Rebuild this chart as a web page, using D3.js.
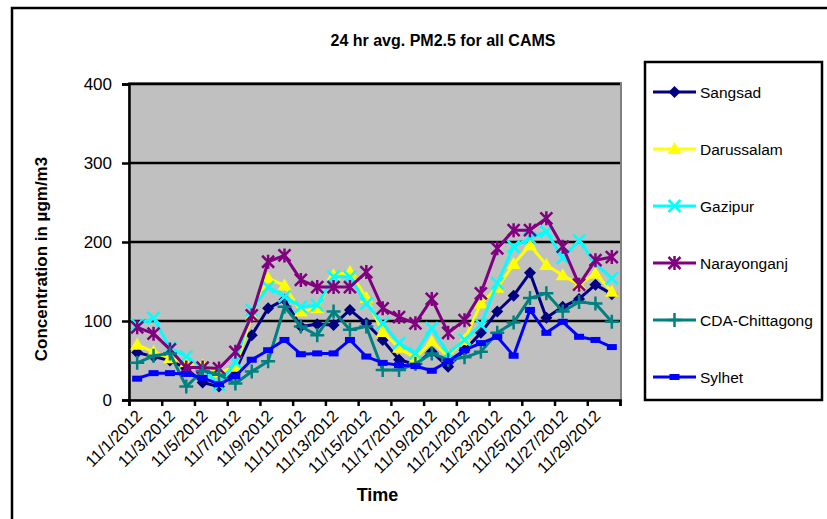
<!DOCTYPE html>
<html>
<head>
<meta charset="utf-8">
<script src="https://cdn.jsdelivr.net/npm/d3@7"></script>
<style>
  body { margin: 0; background: #fff; }
  text { font-family: "Liberation Sans", Arial, sans-serif; }
</style>
</head>
<body>
<div id="chart"></div>
<script>
// categories
var dates = ["11/1/2012","11/2/2012","11/3/2012","11/4/2012","11/5/2012","11/6/2012","11/7/2012","11/8/2012","11/9/2012","11/10/2012",
  "11/11/2012","11/12/2012","11/13/2012","11/14/2012","11/15/2012","11/16/2012","11/17/2012","11/18/2012","11/19/2012","11/20/2012",
  "11/21/2012","11/22/2012","11/23/2012","11/24/2012","11/25/2012","11/26/2012","11/27/2012","11/28/2012","11/29/2012","11/30/2012"]

var sangsad     = [60, 55, 50, 40, 22, 17, 37, 82, 116, 127, 93, 96, 95, 114, 97, 76, 51, 45, 61, 42, 63, 85, 112, 132, 161, 104, 118, 128, 146, 134]
var darussalam  = [70, 61, 53, 48, 44, 35, 42, 107, 154, 145, 112, 116, 158, 162, 129, 86, 66, 53, 74, 55, 76, 122, 142, 172, 196, 171, 158, 146, 160, 137]
var gazipur     = [95, 104, 66, 55, 40, 19, 48, 114, 143, 131, 118, 120, 156, 156, 122, 97, 72, 59, 91, 59, 76, 95, 148, 194, 205, 213, 180, 202, 173, 154]
var narayonganj = [92, 84, 64, 41, 41, 40, 61, 107, 175, 183, 152, 143, 143, 143, 162, 116, 105, 97, 128, 85, 101, 135, 192, 215, 215, 230, 194, 146, 177, 181]
var chittagong  = [47, 56, 59, 17, 37, 32, 21, 36, 49, 118, 93, 82, 112, 89, 93, 38, 38, 46, 59, 51, 54, 61, 85, 98, 129, 135, 112, 124, 122, 99]
var sylhet      = [27, 34, 34, 33, 28, 20, 30, 51, 63, 76, 58, 59, 59, 76, 55, 47, 44, 43, 37, 49, 63, 72, 80, 56, 114, 85, 99, 80, 76, 67]

var seriesNames = ["Sangsad", "Darussalam", "Gazipur", "Narayonganj", "CDA-Chittagong", "Sylhet"]
var seriesData = [sangsad, darussalam, gazipur, narayonganj, chittagong, sylhet]
var colors = ["#000080", "#ffff00", "#00ffff", "#800080", "#008080", "#0000ff"]
var markers = ["diamond", "triangle", "cross", "star", "plus", "dash"]
var yTicks = [0, 100, 200, 300, 400]

var W = 827, H = 519
var plot = {left: 129, right: 620, top: 84, bottom: 400}

var svg = d3.select("#chart").append("svg")
  .attr("width", W).attr("height", H)

// chart area border
svg.append("rect")
  .attr("x", 12).attr("y", 8).attr("width", 830).attr("height", 530)
  .attr("fill", "#fff").attr("stroke", "#000").attr("stroke-width", 2.5)

var x = d3.scaleBand().domain(dates).range([plot.left, plot.right])
var xi = d3.scaleLinear().domain([0, dates.length]).range([plot.left, plot.right])
var y = d3.scaleLinear().domain([0, 400]).range([plot.bottom, plot.top])
var cx = function(i) { return x(dates[i]) + x.bandwidth() / 2 }

// plot area
svg.append("rect")
  .attr("x", plot.left).attr("y", plot.top - 1)
  .attr("width", plot.right - plot.left + 1).attr("height", plot.bottom - plot.top + 1)
  .attr("fill", "#c0c0c0").attr("stroke", "#808080").attr("stroke-width", 2)

// gridlines
svg.append("g").selectAll("line")
  .data(yTicks.filter(d => d > 0))
  .join("line")
  .attr("x1", plot.left).attr("x2", plot.right)
  .attr("y1", d => y(d)).attr("y2", d => y(d))
  .attr("stroke", "#000").attr("stroke-width", 2.5)

// y axis
var yAxis = svg.append("g")
  .attr("transform", "translate(" + plot.left + ",0)")
  .call(d3.axisLeft(y).tickValues(yTicks).tickSize(7).tickPadding(10))
yAxis.select(".domain").attr("stroke", "#000").attr("stroke-width", 2.5)
yAxis.selectAll(".tick line").attr("stroke", "#000").attr("stroke-width", 2.5)
yAxis.selectAll("text").style("font-size", "17px").attr("fill", "#000")
  .style("font-family", "Liberation Sans, Arial, sans-serif")

// x axis (ticks every 2 categories)
var xAxis = svg.append("g")
  .attr("transform", "translate(0," + plot.bottom + ")")
  .call(d3.axisBottom(xi).tickValues(d3.range(0, dates.length + 1, 2)).tickSize(6).tickFormat(""))
xAxis.select(".domain").attr("stroke", "#000").attr("stroke-width", 2.5)
xAxis.selectAll(".tick line").attr("stroke", "#000").attr("stroke-width", 2.5)

// x labels rotated
svg.append("g").selectAll("text")
  .data(dates.filter((d, i) => i % 2 == 0))
  .join("text")
  .attr("transform", d => "translate(" + (x(d) + x.bandwidth() / 2 + 6) + "," + (plot.bottom + 17) + ") rotate(-45)")
  .attr("text-anchor", "end")
  .style("font-size", "16.5px")
  .text(d => d)

// lines
var line = d3.line()
  .x((d, i) => cx(i))
  .y(d => y(d))

function drawMarker(g, type, color) {
  if (type == "diamond") {
    g.append("path").attr("d", "M0,-6L6,0L0,6L-6,0Z").attr("fill", color)
  } else if (type == "triangle") {
    g.append("path").attr("d", "M0,-7L7,5L-7,5Z").attr("fill", color)
  } else if (type == "cross") {
    g.append("path").attr("d", "M-6,-6L6,6M-6,6L6,-6").attr("stroke", color).attr("stroke-width", 2.5)
  } else if (type == "star") {
    g.append("path").attr("d", "M-6,-6L6,6M-6,6L6,-6M0,-7L0,7").attr("stroke", color).attr("stroke-width", 2.5)
  } else if (type == "plus") {
    g.append("path").attr("d", "M0,-7L0,7M-7,0L7,0").attr("stroke", color).attr("stroke-width", 2.5)
  } else if (type == "dash") {
    g.append("rect").attr("x", -5).attr("y", -3).attr("width", 10).attr("height", 6).attr("fill", color)
  }
}

seriesData.forEach(function(vals, s) {
  var g = svg.append("g")
  g.append("path")
    .datum(vals)
    .attr("fill", "none")
    .attr("stroke", colors[s])
    .attr("stroke-width", 3)
    .attr("stroke-linejoin", "round")
    .attr("d", line)
  vals.forEach(function(v, i) {
    var m = g.append("g").attr("transform", "translate(" + cx(i) + "," + y(v) + ")")
    drawMarker(m, markers[s], colors[s])
  })
})

// titles
svg.append("text")
  .attr("x", 443).attr("y", 46)
  .attr("text-anchor", "middle")
  .style("font-size", "16px").style("font-weight", "bold")
  .text("24 hr avg. PM2.5 for all CAMS")

svg.append("text")
  .attr("x", plot.left + (plot.right - plot.left) / 2 + 3).attr("y", 501)
  .attr("text-anchor", "middle")
  .style("font-size", "18px").style("font-weight", "bold")
  .text("Time")

svg.append("text")
  .attr("transform", "translate(47,259) rotate(-90)")
  .attr("text-anchor", "middle")
  .style("font-size", "17px").style("font-weight", "bold")
  .text("Concentration in µgm/m3")

// legend
var legend = svg.append("g")
legend.append("rect")
  .attr("x", 645).attr("y", 62).attr("width", 177).attr("height", 338)
  .attr("fill", "#fff").attr("stroke", "#000").attr("stroke-width", 2.5)

seriesNames.forEach(function(name, s) {
  var ly = 92 + s * 57
  var item = legend.append("g")
  item.append("line")
    .attr("x1", 653).attr("x2", 696).attr("y1", ly).attr("y2", ly)
    .attr("stroke", colors[s]).attr("stroke-width", 3)
  var m = item.append("g").attr("transform", "translate(674.5," + ly + ")")
  drawMarker(m, markers[s], colors[s])
  item.append("text")
    .attr("x", 700).attr("y", ly + 5.5)
    .style("font-size", "15.5px")
    .text(name)
})
</script>
</body>
</html>
